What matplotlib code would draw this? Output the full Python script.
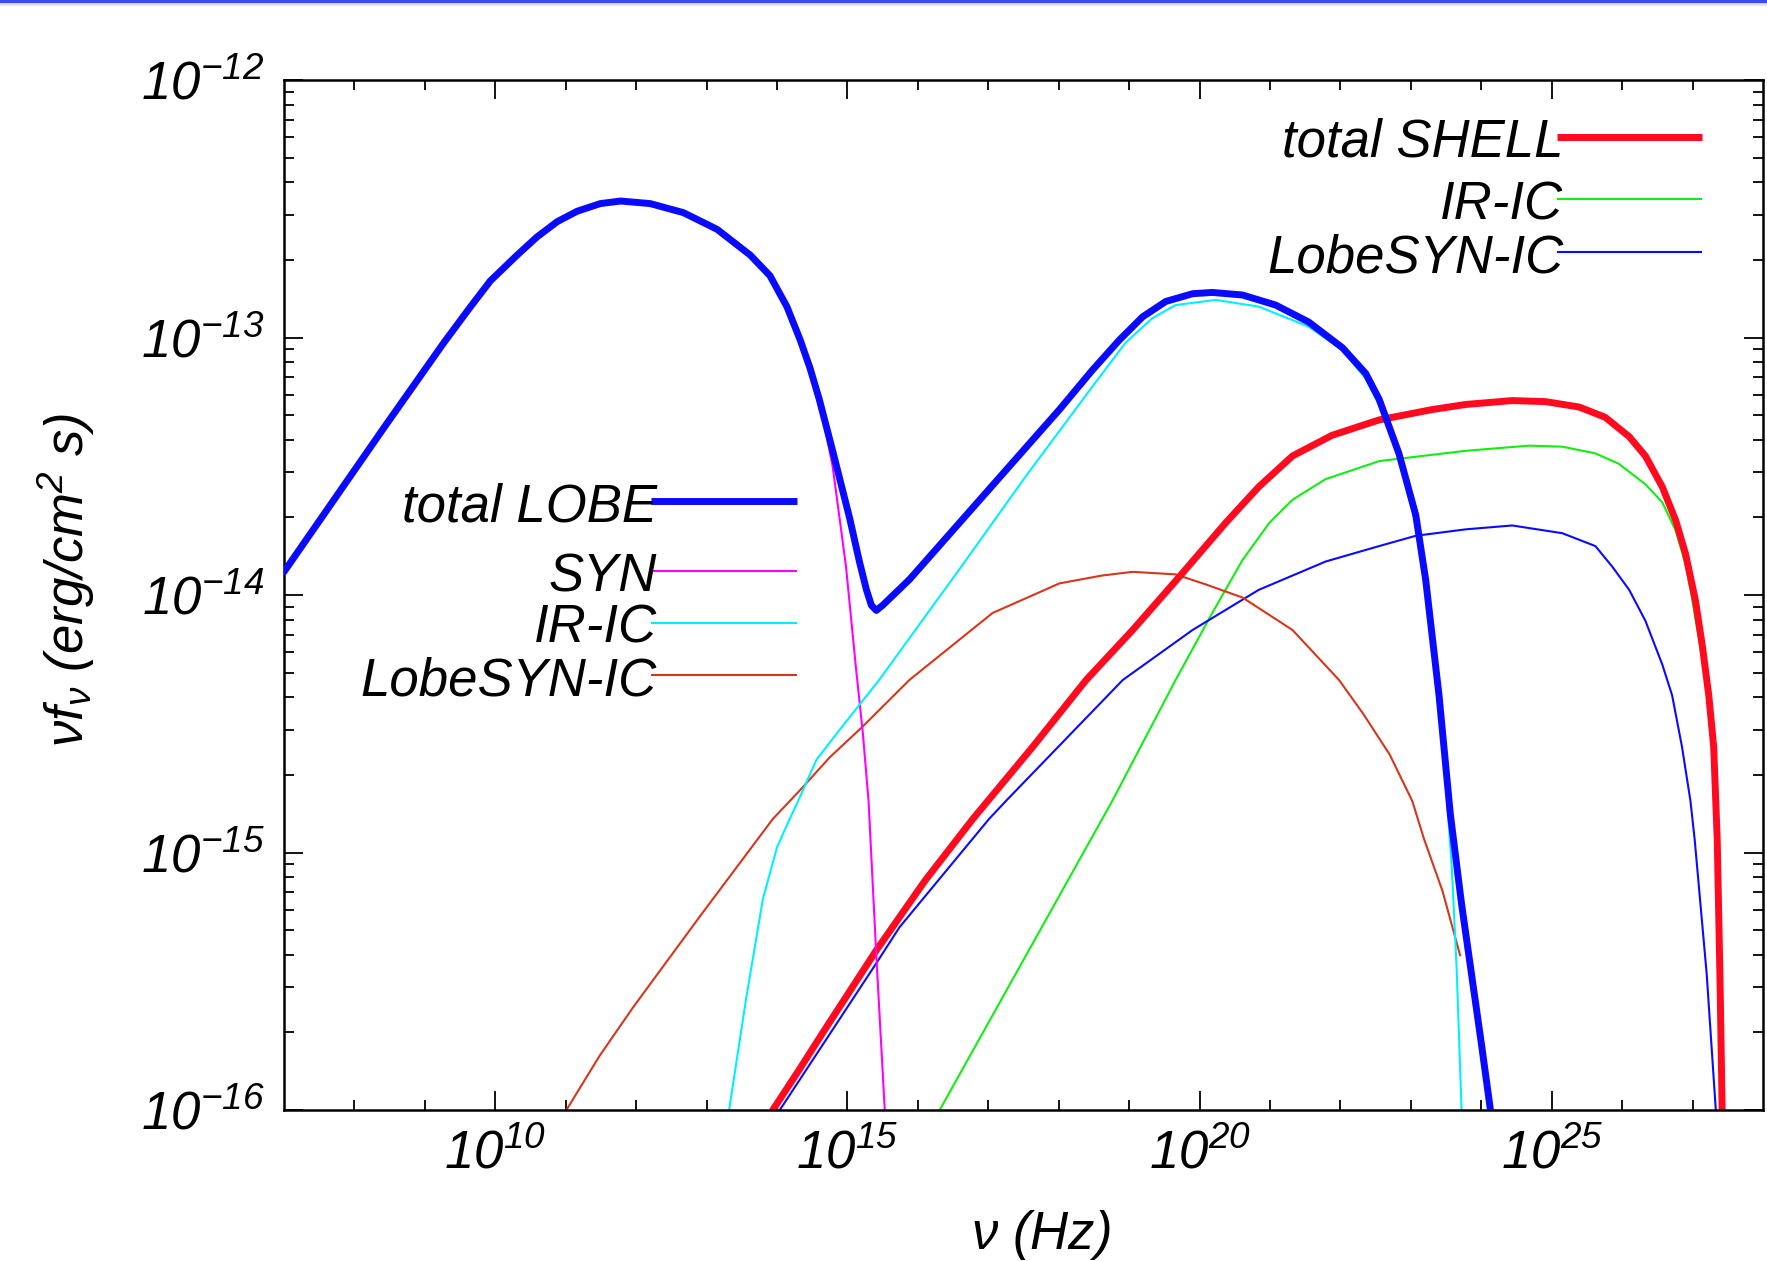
import numpy as np
import matplotlib
matplotlib.use("Agg")
import matplotlib.pyplot as plt
from matplotlib.lines import Line2D
import matplotlib.transforms as mtransforms

# ---------------- data: log10(nu / Hz), log10(nu F_nu / erg cm^-2 s^-1) ----------------
lobe_total_lognu = [7.0, 7.71, 8.42, 9.27, 9.65, 9.93, 10.31, 10.59, 10.88, 11.16, 11.49, 11.78,
                    12.20, 12.67, 13.15, 13.62, 13.90, 14.14, 14.33, 14.47, 14.60, 14.79, 15.03,
                    15.17, 15.27, 15.34, 15.41, 15.50, 15.88, 16.59, 17.30, 18.01, 18.48, 18.86,
                    19.19, 19.52, 19.90, 20.18, 20.61, 21.08, 21.55, 22.03, 22.36, 22.55, 22.83,
                    23.07, 23.21, 23.40, 23.56, 23.72, 23.86, 24.00, 24.13]
lobe_total_logf = [-13.91, -13.63, -13.35, -13.02, -12.88, -12.78, -12.68, -12.61, -12.55, -12.51,
                   -12.48, -12.47, -12.48, -12.515, -12.58, -12.68, -12.76, -12.88, -13.01, -13.12,
                   -13.24, -13.44, -13.70, -13.87, -13.98, -14.04, -14.06, -14.04, -13.94, -13.72,
                   -13.50, -13.28, -13.126, -13.01, -12.92, -12.86, -12.83, -12.825, -12.835,
                   -12.874, -12.94, -13.04, -13.14, -13.24, -13.45, -13.69, -13.94, -14.39, -14.85,
                   -15.20, -15.47, -15.74, -16.0]

lobe_syn_lognu = [7.0, 7.71, 8.42, 9.27, 9.65, 9.93, 10.31, 10.59, 10.88, 11.16, 11.49, 11.78,
                  12.20, 12.67, 13.15, 13.62, 13.90, 14.14, 14.33, 14.47, 14.60, 14.79, 14.98,
                  15.12, 15.22, 15.30, 15.41, 15.53]
lobe_syn_logf = [-13.91, -13.63, -13.35, -13.02, -12.88, -12.78, -12.68, -12.61, -12.55, -12.51,
                 -12.48, -12.47, -12.48, -12.515, -12.58, -12.68, -12.76, -12.88, -13.01, -13.12,
                 -13.24, -13.50, -13.89, -14.28, -14.54, -14.80, -15.40, -16.0]

lobe_iric_lognu = [13.32, 13.56, 13.80, 14.00, 14.18, 14.30, 14.56, 14.90, 15.45, 16.59, 17.53,
                   18.48, 18.95, 19.33, 19.66, 20.23, 20.84, 21.55, 22.03, 22.36, 22.60, 22.83,
                   23.00, 23.20, 23.35, 23.50, 23.58, 23.65, 23.72]
lobe_iric_logf = [-16.0, -15.57, -15.18, -14.98, -14.87, -14.80, -14.64, -14.52, -14.33, -13.90,
                  -13.54, -13.19, -13.02, -12.925, -12.874, -12.854, -12.88, -12.958, -13.05,
                  -13.16, -13.29, -13.47, -13.64, -13.92, -14.28, -14.75, -15.05, -15.45, -16.0]

lobe_lsic_lognu = [11.01, 11.48, 11.96, 12.90, 13.94, 14.32, 14.75, 15.22, 15.88, 17.06, 18.01,
                   18.60, 19.05, 19.66, 20.10, 20.61, 21.32, 21.98, 22.32, 22.70, 23.02, 23.19,
                   23.45, 23.70]
lobe_lsic_logf = [-16.0, -15.79, -15.60, -15.25, -14.87, -14.76, -14.63, -14.51, -14.33, -14.07,
                  -13.955, -13.925, -13.91, -13.92, -13.96, -14.01, -14.136, -14.33, -14.46,
                  -14.62, -14.80, -14.95, -15.15, -15.40]

shell_total_lognu = [13.94, 14.30, 14.65, 15.41, 16.10, 16.78, 17.63, 18.39, 19.05, 19.71, 20.37,
                     20.84, 21.32, 21.88, 22.55, 23.30, 23.78, 24.44, 24.91, 25.39, 25.76, 26.10,
                     26.33, 26.57, 26.76, 26.90, 27.04, 27.14, 27.23, 27.30, 27.35, 27.39, 27.42]
shell_total_logf = [-16.0, -15.85, -15.70, -15.38, -15.11, -14.87, -14.59, -14.33, -14.136, -13.93,
                    -13.72, -13.58, -13.46, -13.38, -13.32, -13.28, -13.26, -13.245, -13.249,
                    -13.27, -13.31, -13.385, -13.46, -13.58, -13.71, -13.84, -14.02, -14.20,
                    -14.39, -14.59, -14.95, -15.50, -16.0]

shell_iric_lognu = [16.31, 18.76, 19.66, 20.18, 20.61, 20.99, 21.32, 21.79, 22.55, 23.78, 24.68,
                    25.15, 25.62, 25.95, 26.33, 26.57, 26.76, 26.90, 26.99, 27.12, 27.23, 27.30,
                    27.34, 27.38, 27.41]
shell_iric_logf = [-16.0, -14.80, -14.33, -14.07, -13.864, -13.72, -13.63, -13.55, -13.48, -13.44,
                   -13.42, -13.424, -13.45, -13.49, -13.57, -13.64, -13.75, -13.88, -14.01, -14.22,
                   -14.42, -14.62, -15.0, -15.5, -16.0]

shell_lsic_lognu = [14.04, 15.41, 15.74, 17.01, 17.25, 18.91, 19.90, 20.84, 21.79, 22.55, 23.07,
                    23.78, 24.44, 25.15, 25.62, 25.86, 26.10, 26.33, 26.57, 26.71, 26.85, 26.97,
                    27.03, 27.20, 27.33]
shell_lsic_logf = [-16.0, -15.43, -15.29, -14.87, -14.80, -14.33, -14.136, -13.98, -13.87, -13.81,
                   -13.77, -13.745, -13.73, -13.76, -13.81, -13.89, -13.98, -14.10, -14.27, -14.39,
                   -14.59, -14.80, -14.95, -15.47, -16.0]

lobe_labels = ["total LOBE", "SYN", "IR-IC", "LobeSYN-IC"]
shell_labels = ["total SHELL", "IR-IC", "LobeSYN-IC"]

xtick_values = [1e10, 1e15, 1e20, 1e25]
xtick_labels = [r"$10^{10}$", r"$10^{15}$", r"$10^{20}$", r"$10^{25}$"]
ytick_values = [1e-16, 1e-15, 1e-14, 1e-13, 1e-12]
ytick_labels = [r"$10^{-16}$", r"$10^{-15}$", r"$10^{-14}$", r"$10^{-13}$", r"$10^{-12}$"]
x_label = r"$\nu$ (Hz)"
y_label = r"$\nu f_{\nu}$ (erg/cm$^{2}$ s)"

# ---------------- style ----------------
plt.rcParams["font.family"] = ["Liberation Sans", "DejaVu Sans"]
plt.rcParams["font.style"] = "italic"
plt.rcParams["mathtext.fontset"] = "custom"
plt.rcParams["mathtext.rm"] = "Liberation Sans:italic"
plt.rcParams["mathtext.it"] = "Liberation Sans:italic"
plt.rcParams["mathtext.sf"] = "Liberation Sans:italic"
plt.rcParams["mathtext.bf"] = "Liberation Sans:italic"

FS = 38
C_LOBE = "#0a0aff"
C_SYN = "#ff00ff"
C_CYAN = "#00f0ff"
C_ORANGE = "#d8361c"
C_RED = "#ff0a1e"
C_GREEN = "#11ee11"
C_BLUE_THIN = "#0a0aff"
LW_THICK = 5.0
LW_THIN = 1.5

W, H = 1767, 1261
fig = plt.figure(figsize=(W / 100, H / 100), dpi=100)
ax = fig.add_axes([284 / W, (H - 1110) / H, 1479 / W, 1030 / H])

def p(lx, ly):
    return 10 ** np.asarray(lx), 10 ** np.asarray(ly)

kw = dict(solid_joinstyle="round", solid_capstyle="round")
# draw order (later on top)
ax.plot(*p(shell_iric_lognu, shell_iric_logf), color=C_GREEN, lw=LW_THIN, zorder=2, **kw)
ax.plot(*p(shell_lsic_lognu, shell_lsic_logf), color=C_BLUE_THIN, lw=LW_THIN, zorder=2.1, **kw)
ax.plot(*p(lobe_lsic_lognu, lobe_lsic_logf), color=C_ORANGE, lw=LW_THIN, zorder=2.2, **kw)
ax.plot(*p(shell_total_lognu, shell_total_logf), color=C_RED, lw=LW_THICK, zorder=2.3, **kw)
ax.plot(*p(lobe_syn_lognu, lobe_syn_logf), color=C_SYN, lw=LW_THIN, zorder=2.4, **kw)
ax.plot(*p(lobe_iric_lognu, lobe_iric_logf), color=C_CYAN, lw=LW_THIN, zorder=2.5, **kw)
ax.plot(*p(lobe_total_lognu, lobe_total_logf), color=C_LOBE, lw=LW_THICK, zorder=2.6, **kw)

ax.set_xscale("log")
ax.set_yscale("log")
ax.set_xlim(1e7, 1e28)
ax.set_ylim(1e-16, 1e-12)

ax.set_xticks(xtick_values)
ax.set_xticklabels(xtick_labels)
ax.set_xticks([10.0 ** k for k in range(8, 28) if k % 5 != 0], minor=True)
ax.xaxis.set_minor_formatter(matplotlib.ticker.NullFormatter())
ax.set_yticks(ytick_values)
ax.set_yticklabels(ytick_labels)
ax.set_yticks([m * 10.0 ** e for e in range(-16, -12) for m in range(2, 10)], minor=True)
ax.yaxis.set_minor_formatter(matplotlib.ticker.NullFormatter())

ax.tick_params(which="both", direction="in", top=True, right=True, width=1.3, colors="black")
ax.tick_params(which="major", length=14, labelsize=FS, pad=14)
ax.tick_params(which="minor", length=7)
for s in ax.spines.values():
    s.set_linewidth(1.8)

# y label and x label
fig.text(66 / W, 1 - 580 / H, y_label, rotation=90, ha="center", va="center", fontsize=FS)
fig.text(1041 / W, 1 - 1249 / H, x_label, ha="center", va="baseline", fontsize=FS)

# gnuplot-style keys: text right-justified, sample line to its right
def key(x0, x1, y, label, color, lw):
    ax.plot([x0, x1], [y, y], transform=ax.transAxes, color=color, lw=lw,
            solid_capstyle="butt", clip_on=False, zorder=3)
    tr = mtransforms.offset_copy(ax.transAxes, fig=fig, x=0, y=-14.5, units="points")
    ax.text(x0 + 0.004, y, label, transform=tr, ha="right", va="baseline", fontsize=FS, zorder=4)

lobe_key_y = [0.591, 0.523, 0.473, 0.422]
lobe_key_style = [(C_LOBE, LW_THICK), (C_SYN, LW_THIN), (C_CYAN, LW_THIN), (C_ORANGE, LW_THIN)]
for lab, yy, (c, lw) in zip(lobe_labels, lobe_key_y, lobe_key_style):
    key(0.248, 0.347, yy, lab, c, lw)

shell_key_y = [0.945, 0.884, 0.833]
shell_key_style = [(C_RED, LW_THICK), (C_GREEN, LW_THIN), (C_BLUE_THIN, LW_THIN)]
for lab, yy, (c, lw) in zip(shell_labels, shell_key_y, shell_key_style):
    key(0.861, 0.959, yy, lab, c, lw)

# slide header rule at the very top
fig.add_artist(Line2D([0, 1], [1 - 4 / H, 1 - 4 / H], transform=fig.transFigure,
                      color="#e4e4ec", lw=3))
fig.add_artist(Line2D([0, 1], [1 - 1.2 / H, 1 - 1.2 / H], transform=fig.transFigure,
                      color="#3a4bef", lw=2.4))

fig.savefig("out.png", dpi=100)
